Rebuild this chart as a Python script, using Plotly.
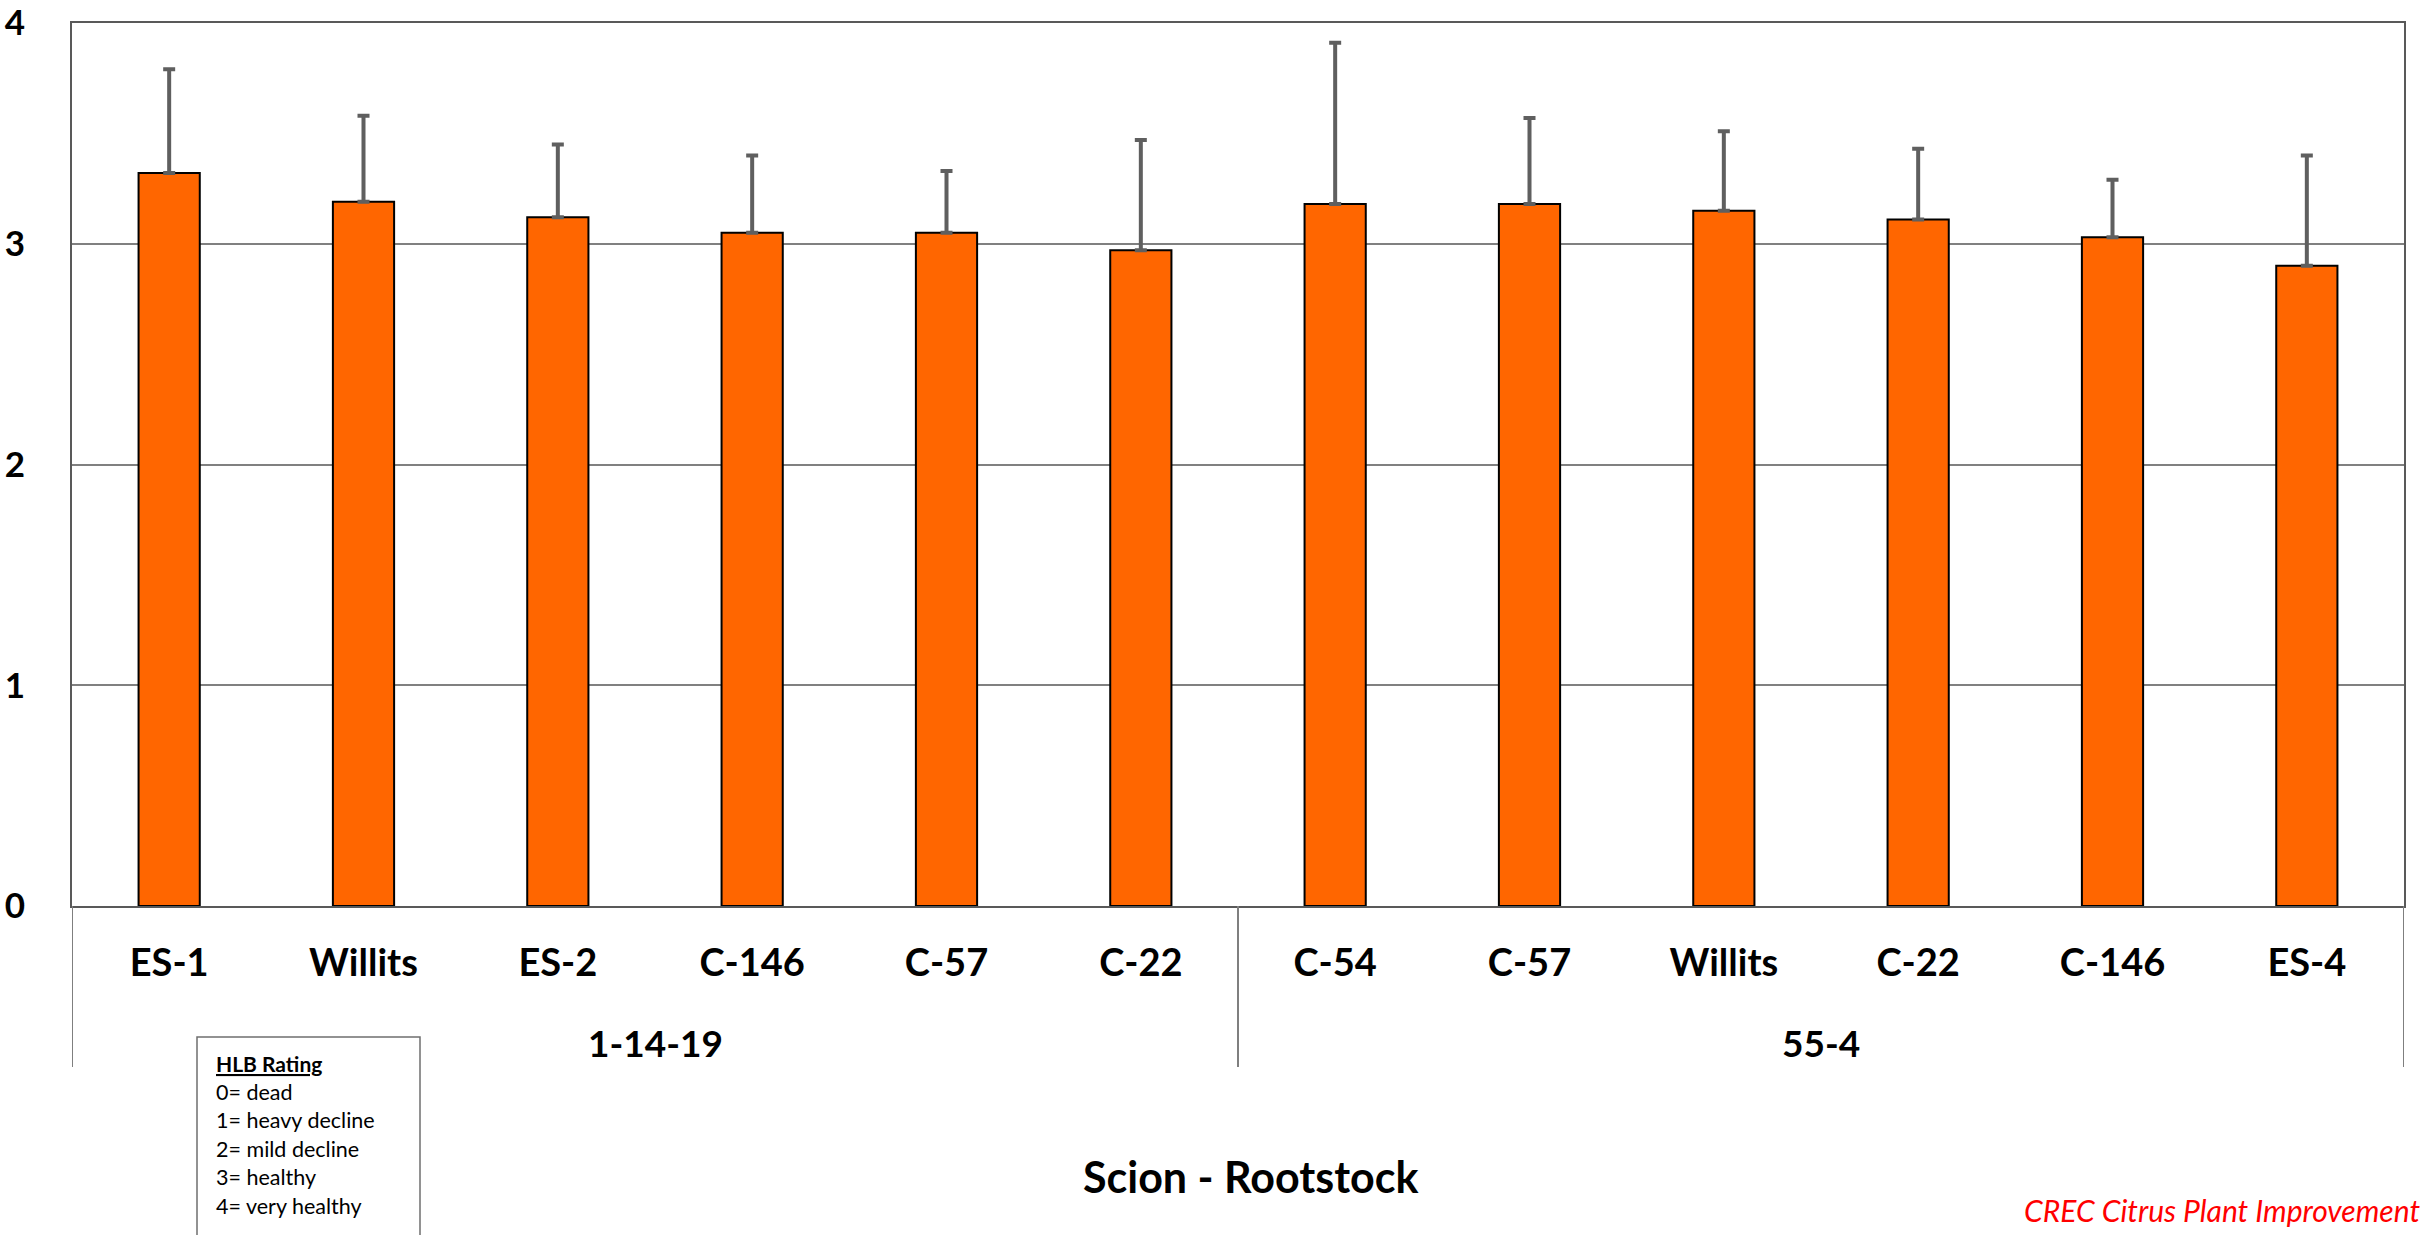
import plotly.graph_objects as go

# ---- data ----
rootstocks = ["ES-1", "Willits", "ES-2", "C-146", "C-57", "C-22",
              "C-54", "C-57", "Willits", "C-22", "C-146", "ES-4"]
scions = ["1-14-19", "55-4"]
group_sizes = [6, 6]
means = [3.32, 3.19, 3.12, 3.05, 3.05, 2.97, 3.18, 3.18, 3.15, 3.11, 3.03, 2.90]
errors = [0.47, 0.39, 0.33, 0.35, 0.28, 0.50, 0.73, 0.39, 0.36, 0.32, 0.26, 0.50]
y_ticks = [0, 1, 2, 3, 4]
legend_lines = ["0= dead", "1= heavy decline", "2= mild decline", "3= healthy", "4= very healthy"]

# ---- layout geometry (pixels) ----
W, H = 2420, 1235
ML, MR, MT, MB = 72, 16, 23, 329
PW, PH = W - ML - MR, H - MT - MB


def px(xp):
    return (xp - ML) / PW


def py(yp):
    return (H - MB - yp) / PH


FONT = "Lato"
xs = list(range(len(rootstocks)))

fig = go.Figure()
fig.add_trace(go.Bar(
    x=xs, y=means, width=0.315,
    marker=dict(color="#FF6600", line=dict(color="#000000", width=2)),
    error_y=dict(type="data", array=errors, arrayminus=[0] * len(errors), symmetric=False,
                 color="#5f5f5f", thickness=4, width=6),
    showlegend=False,
))

shapes = []
# group dividers below the plot
bounds = [-0.5]
for g in group_sizes:
    bounds.append(bounds[-1] + g)
for b in bounds:
    shapes.append(dict(type="line", xref="x", yref="paper", x0=b, x1=b, y0=0, y1=py(1067),
                       line=dict(color="#7f7f7f", width=2)))
# legend box
shapes.append(dict(type="rect", xref="paper", yref="paper", x0=px(197), x1=px(420),
                   y0=py(1037), y1=py(1300), line=dict(color="#6f6f6f", width=1.5),
                   fillcolor="rgba(0,0,0,0)"))

annotations = []
start = 0
for name, g in zip(scions, group_sizes):
    annotations.append(dict(x=start + (g - 1) / 2, y=py(1042), xref="x", yref="paper",
                            text=f"<b>{name}</b>", showarrow=False, yanchor="middle",
                            font=dict(family=FONT, size=37, color="#000000")))
    start += g

annotations.append(dict(x=px(1250), y=py(1176), xref="paper", yref="paper",
                        text="<b>Scion - Rootstock</b>", showarrow=False, yanchor="middle",
                        font=dict(family=FONT, size=43, color="#000000")))
annotations.append(dict(x=px(2422), y=py(1210), xref="paper", yref="paper",
                        text="<i>CREC Citrus Plant Improvement</i>", showarrow=False,
                        xanchor="right", yanchor="middle",
                        font=dict(family=FONT, size=30, color="#FF0000")))
annotations.append(dict(x=px(214), y=py(1063), xref="paper", yref="paper",
                        text="<b><u>HLB Rating</u></b>", showarrow=False,
                        xanchor="left", yanchor="middle",
                        font=dict(family=FONT, size=21, color="#000000")))
for i, line in enumerate(legend_lines):
    annotations.append(dict(x=px(214), y=py(1092 + i * 28.4), xref="paper", yref="paper",
                            text=line, showarrow=False, xanchor="left", yanchor="middle",
                            font=dict(family=FONT, size=21.5, color="#000000")))

fig.update_layout(
    width=W, height=H,
    margin=dict(l=ML, r=MR, t=MT, b=MB, pad=0, autoexpand=False),
    paper_bgcolor="white", plot_bgcolor="white",
    xaxis=dict(
        range=[-0.5, len(rootstocks) - 0.5],
        tickmode="array", tickvals=xs, ticktext=[f"<b>{r}</b>" for r in rootstocks],
        tickfont=dict(family=FONT, size=38, color="#000000"),
        ticks="", ticklabelstandoff=22, automargin=False,
        showgrid=False, zeroline=False,
        showline=True, linecolor="#595959", linewidth=2, mirror=True,
    ),
    yaxis=dict(
        range=[0, 4], tickmode="array", tickvals=y_ticks,
        ticktext=[f"<b>{t}</b>" for t in y_ticks],
        tickfont=dict(family=FONT, size=35, color="#000000"),
        ticks="", ticklabelstandoff=38, automargin=False,
        showgrid=True, gridcolor="#808080", gridwidth=1.5,
        zeroline=False,
        showline=True, linecolor="#595959", linewidth=2, mirror=True,
    ),
    shapes=shapes,
    annotations=annotations,
)

fig.write_html("out.html",
               config={"displayModeBar": False},
               post_script="document.body.style.margin='0';document.body.style.overflow='hidden';")
